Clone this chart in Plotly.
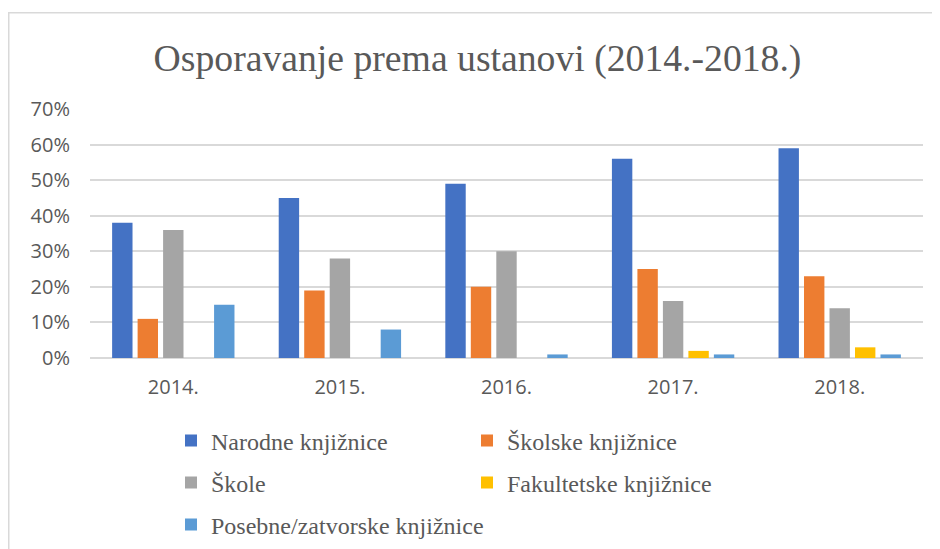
import plotly.graph_objects as go

years = ["2014.", "2015.", "2016.", "2017.", "2018."]
series_names = [
    "Narodne knjižnice",
    "Školske knjižnice",
    "Škole",
    "Fakultetske knjižnice",
    "Posebne/zatvorske knjižnice",
]
narodne = [0.38, 0.45, 0.49, 0.56, 0.59]
skolske = [0.11, 0.19, 0.20, 0.25, 0.23]
skole = [0.36, 0.28, 0.30, 0.16, 0.14]
fakultetske = [0.0, 0.0, 0.0, 0.02, 0.03]
posebne = [0.15, 0.08, 0.01, 0.01, 0.01]
y_ticks = [0, 0.1, 0.2, 0.3, 0.4, 0.5, 0.6, 0.7]
y_tick_text = ["0%", "10%", "20%", "30%", "40%", "50%", "60%", "70%"]

values = [narodne, skolske, skole, fakultetske, posebne]
colors = ["#4472C4", "#ED7D31", "#A5A5A5", "#FFC000", "#5B9BD5"]
legend_ids = ["legend", "legend", "legend2", "legend2", "legend3"]

fig = go.Figure()
for name, vals, col, lg in zip(series_names, values, colors, legend_ids):
    fig.add_trace(go.Bar(
        x=years, y=vals, name=name,
        marker=dict(color=col, line=dict(width=0)),
        legend=lg,
    ))

GRAY = "#595959"
# page body has an 8px offset; figure coords = screen coords - 8
L, T, PB, PR = 82, 101, 350, 915
PW, PH = PR - L, PB - T

legend_common = dict(
    orientation="h", xref="paper", yref="paper",
    xanchor="left", yanchor="middle",
    font=dict(family="Liberation Serif", size=24, color=GRAY),
    entrywidthmode="pixels",
    bgcolor="rgba(0,0,0,0)", borderwidth=0,
    itemclick=False, itemdoubleclick=False,
)
lx = (163 - L) / PW

fig.update_layout(
    width=940, height=549,
    margin=dict(l=L, r=940 - PR, t=T, b=549 - PB, autoexpand=False),
    paper_bgcolor="white", plot_bgcolor="white",
    barmode="group", bargap=0.235, bargroupgap=0.2,
    title=dict(
        text="Osporavanje prema ustanovi (2014.-2018.)",
        font=dict(family="Liberation Serif", size=37.7, color=GRAY),
        xref="container", x=(477.5 - 8) / 940, xanchor="center",
        yref="container", y=1 - 50 / 549, yanchor="middle",
    ),
    xaxis=dict(
        showgrid=False, showline=False, zeroline=False,
        tickfont=dict(family="Open Sans", size=20, color=GRAY),
        ticklabelstandoff=15,
    ),
    yaxis=dict(
        range=[0, 0.7], tickvals=y_ticks, ticktext=y_tick_text,
        showgrid=True, gridcolor="#D9D9D9", gridwidth=1.5,
        zeroline=True, zerolinecolor="#D9D9D9", zerolinewidth=1.5,
        showline=False,
        tickfont=dict(family="Open Sans", size=20, color=GRAY),
        ticklabelstandoff=19,
    ),
    legend=dict(x=lx, y=(PB - 433) / PH, entrywidth=251, **legend_common),
    legend2=dict(x=lx, y=(PB - 475) / PH, entrywidth=251, **legend_common),
    legend3=dict(x=lx, y=(PB - 517) / PH, entrywidth=400, **legend_common),
    shapes=[dict(
        type="rect", xref="paper", yref="paper",
        x0=(0.75 - L) / PW, x1=1.06, y0=-0.9, y1=(PB - 4.7) / PH,
        line=dict(color="#D9D9D9", width=1.5), fillcolor="rgba(0,0,0,0)",
        layer="below",
    )],
)

fig.write_html("out.html")
